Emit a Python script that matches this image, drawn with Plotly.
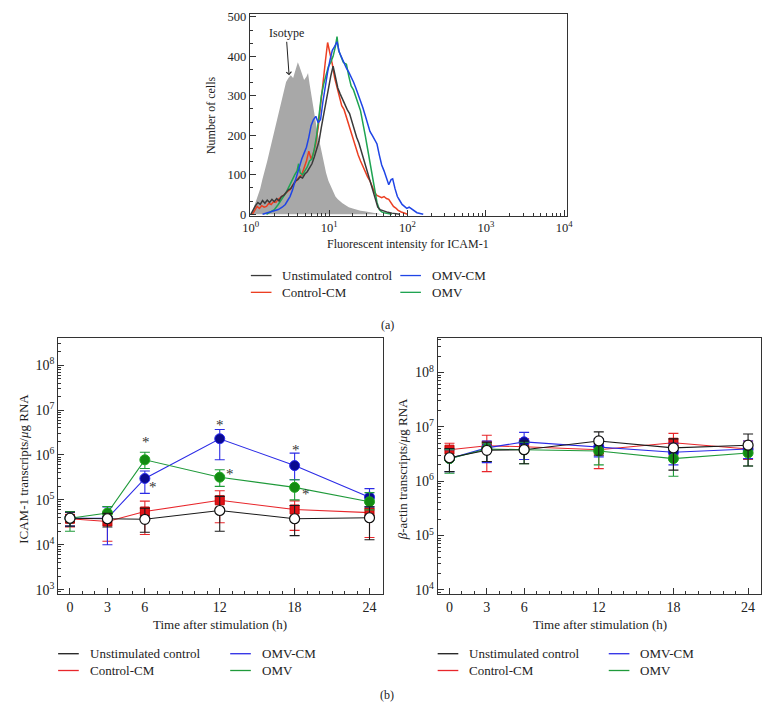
import numpy as np
import plotly.graph_objects as go

FONT = "Liberation Serif"
W, H = 776, 715

# ---------------- (a) flow cytometry histogram: log10(intensity) vs number of cells
iso_log = [0.00, 0.03, 0.06, 0.09, 0.12, 0.15, 0.18, 0.21, 0.24, 0.27, 0.30, 0.33, 0.36, 0.39, 0.42,
           0.45, 0.48, 0.51, 0.54, 0.57, 0.60, 0.62, 0.65, 0.68, 0.71, 0.73, 0.75, 0.78, 0.81, 0.84,
           0.87, 0.90, 0.93, 0.96, 0.99, 1.02, 1.05, 1.08, 1.11, 1.14, 1.17, 1.20, 1.25, 1.30, 1.35,
           1.40, 1.45, 1.50, 1.55, 1.60, 1.65, 1.70]
iso_cnt = [0, 12, 30, 45, 65, 90, 110, 135, 160, 185, 215, 240, 265, 290, 310,
           335, 345, 352, 345, 365, 385, 375, 355, 340, 348, 358, 330, 290, 255, 220,
           190, 160, 130, 105, 85, 70, 55, 45, 38, 32, 28, 24, 18, 15, 12,
           9, 8, 6, 4, 2, 1, 0]

unst_log = [0.00, 0.03, 0.06, 0.09, 0.12, 0.15, 0.18, 0.21, 0.24, 0.27, 0.30, 0.33, 0.36, 0.39, 0.42,
            0.45, 0.48, 0.51, 0.54, 0.57, 0.60, 0.63, 0.66, 0.69, 0.72, 0.75, 0.78, 0.81, 0.84, 0.87,
            0.90, 0.93, 0.96, 0.99, 1.02, 1.05, 1.08, 1.11, 1.14, 1.17, 1.20, 1.23, 1.26, 1.29, 1.32,
            1.35, 1.38, 1.41, 1.44, 1.47, 1.50, 1.53, 1.56, 1.59, 1.62, 1.65, 1.70, 1.75, 1.80, 1.90]
unst_cnt = [0, 12, 22, 30, 25, 35, 28, 36, 30, 38, 32, 40, 34, 45, 48,
            55, 62, 65, 75, 85, 88, 95, 92, 102, 108, 118, 128, 145, 165, 185,
            220, 255, 290, 325, 350, 375, 345, 320, 305, 290, 275, 265, 255, 235, 210,
            195, 180, 160, 135, 115, 100, 80, 60, 35, 18, 12, 8, 5, 3, 0]

ccm_log = [0.02, 0.05, 0.08, 0.11, 0.14, 0.17, 0.20, 0.23, 0.26, 0.29, 0.32, 0.35, 0.38, 0.41, 0.44,
           0.47, 0.50, 0.53, 0.56, 0.59, 0.62, 0.65, 0.68, 0.71, 0.74, 0.77, 0.80, 0.83, 0.86, 0.89,
           0.92, 0.95, 0.98, 1.01, 1.04, 1.07, 1.10, 1.13, 1.16, 1.19, 1.22, 1.25, 1.28, 1.31, 1.34,
           1.37, 1.40, 1.43, 1.46, 1.49, 1.52, 1.55, 1.58, 1.61, 1.64, 1.67, 1.70, 1.73, 1.76, 1.79,
           1.82, 1.85, 1.88, 1.92, 1.96, 2.00]
ccm_cnt = [0, 10, 20, 15, 22, 18, 20, 28, 25, 32, 30, 38, 42, 48, 52,
           58, 62, 72, 80, 88, 95, 100, 115, 135, 160, 140, 155, 180, 220, 280,
           340, 385, 435, 410, 380, 345, 320, 295, 275, 265, 245, 230, 205, 190, 170,
           150, 135, 120, 105, 95, 85, 70, 55, 48, 45, 42, 45, 40, 38, 30,
           20, 16, 10, 6, 3, 0]

omvcm_log = [0.15, 0.20, 0.25, 0.30, 0.35, 0.40, 0.44, 0.47, 0.50, 0.53, 0.56, 0.59, 0.62, 0.65, 0.68,
             0.71, 0.74, 0.77, 0.80, 0.83, 0.86, 0.89, 0.92, 0.95, 0.98, 1.01, 1.04, 1.07, 1.10, 1.13,
             1.16, 1.19, 1.22, 1.25, 1.28, 1.31, 1.34, 1.37, 1.40, 1.43, 1.46, 1.49, 1.52, 1.55, 1.58,
             1.61, 1.64, 1.67, 1.70, 1.73, 1.76, 1.79, 1.81, 1.84, 1.87, 1.90, 1.93, 1.96, 1.99, 2.02,
             2.05, 2.08, 2.12, 2.16, 2.20]
omvcm_cnt = [0, 3, 6, 10, 12, 18, 25, 35, 45, 60, 80, 105, 125, 140, 155,
             170, 195, 225, 240, 248, 232, 240, 285, 325, 360, 390, 415, 425, 437, 410,
             395, 385, 370, 360, 349, 335, 320, 305, 285, 270, 250, 230, 210, 200, 190,
             178, 150, 125, 110, 90, 75, 88, 90, 65, 45, 35, 25, 20, 15, 18,
             14, 8, 4, 2, 0]

omv_log = [0.20, 0.25, 0.30, 0.35, 0.40, 0.45, 0.50, 0.53, 0.56, 0.59, 0.61, 0.63, 0.66, 0.69, 0.72,
           0.75, 0.78, 0.81, 0.84, 0.87, 0.90, 0.93, 0.96, 0.99, 1.02, 1.05, 1.08, 1.10, 1.12, 1.15,
           1.18, 1.20, 1.22, 1.25, 1.28, 1.31, 1.34, 1.37, 1.40, 1.43, 1.46, 1.49, 1.52, 1.55, 1.58,
           1.61, 1.64, 1.67, 1.70, 1.75, 1.80]
omv_cnt = [0, 5, 12, 25, 40, 55, 75, 90, 100, 110, 128, 105, 100, 110, 120,
           135, 140, 165, 200, 250, 300, 330, 355, 374, 385, 400, 425, 450, 415, 400,
           385, 382, 380, 350, 325, 315, 295, 280, 262, 235, 200, 166, 130, 100, 60,
           30, 12, 6, 4, 2, 0]

# ---------------- (b) qPCR time course
hours = [0, 3, 6, 12, 18, 24]
hour_labels = ["0", "3", "6", "12", "18", "24"]
series_names = ["Unstimulated control", "Control-CM", "OMV-CM", "OMV"]

# ICAM-1 transcripts / ug RNA : mean, lower and upper error limits
icam_unst = [3.9e4, 3.8e4, 3.7e4, 5.8e4, 3.8e4, 4.0e4]
icam_unst_lo = [2.6e4, 2.5e4, 1.9e4, 2.0e4, 1.6e4, 1.3e4]
icam_unst_hi = [5.3e4, 5.0e4, 6.5e4, 1.2e5, 7.5e4, 7.0e4]
icam_ccm = [3.8e4, 3.3e4, 5.5e4, 9.8e4, 6.1e4, 5.2e4]
icam_ccm_lo = [2.5e4, 1.2e4, 1.7e4, 3.1e4, 2.1e4, 1.45e4]
icam_ccm_hi = [5.5e4, 5.0e4, 9.4e4, 1.6e5, 9.5e4, 6.5e4]
icam_omvcm = [3.9e4, 3.9e4, 3.0e5, 2.3e6, 5.8e5, 1.15e5]
icam_omvcm_lo = [2.6e4, 1.0e4, 1.4e5, 7.8e5, 2.8e5, 7.0e4]
icam_omvcm_hi = [5.3e4, 7.0e4, 4.4e5, 3.7e6, 1.1e6, 1.78e5]
icam_omv = [3.9e4, 5.1e4, 7.8e5, 3.2e5, 1.9e5, 9.1e4]
icam_omv_lo = [2.0e4, 3.5e4, 5.0e5, 2.0e5, 1.0e5, 6.0e4]
icam_omv_hi = [5.5e4, 7.1e4, 1.15e6, 4.7e5, 2.8e5, 1.45e5]

# beta-actin transcripts / ug RNA
bact_unst = [2.7e6, 3.7e6, 3.8e6, 5.5e6, 4.1e6, 4.6e6]
bact_unst_lo = [1.5e6, 2.3e6, 2.1e6, 3.0e6, 1.6e6, 1.9e6]
bact_unst_hi = [4.0e6, 5.2e6, 5.5e6, 8.1e6, 6.0e6, 7.4e6]
bact_ccm = [3.8e6, 4.5e6, 4.3e6, 3.8e6, 5.1e6, 3.9e6]
bact_ccm_lo = [2.5e6, 1.5e6, 2.5e6, 1.7e6, 3.0e6, 2.5e6]
bact_ccm_hi = [5.0e6, 7.0e6, 6.0e6, 5.0e6, 7.6e6, 5.5e6]
bact_omvcm = [2.6e6, 4.1e6, 5.3e6, 4.3e6, 3.4e6, 3.9e6]
bact_omvcm_lo = [1.5e6, 2.2e6, 2.5e6, 2.8e6, 2.0e6, 2.6e6]
bact_omvcm_hi = [3.8e6, 5.5e6, 7.9e6, 6.0e6, 5.0e6, 5.5e6]
bact_omv = [2.6e6, 3.9e6, 3.8e6, 3.6e6, 2.6e6, 3.3e6]
bact_omv_lo = [1.4e6, 2.3e6, 2.1e6, 2.0e6, 1.23e6, 1.9e6]
bact_omv_hi = [3.8e6, 5.0e6, 5.2e6, 5.0e6, 3.8e6, 4.8e6]

# significance marks on ICAM-1 panel (hour, value)
star_t = [6.08, 6.66, 12.05, 12.84, 18.1, 18.94]
star_v = [2.4e6, 2.4e5, 5.6e6, 4.7e5, 1.6e6, 1.7e5]

# ---------------- styling
C_HIST = {"unst": "#3a3a3a", "ccm": "#ec3f22", "omvcm": "#1f45e6", "omv": "#1fa452"}
LINE_C = ["#1a1a1a", "#e8262b", "#2b2be6", "#1f9a3a"]
MARK = [dict(symbol="circle", size=10, color="white", line=dict(color="#111", width=1.2)),
        dict(symbol="square", size=9, color="#e01418", line=dict(color="#c00000", width=1)),
        dict(symbol="circle", size=10, color="#0a0a90", line=dict(color="#2a2af0", width=1)),
        dict(symbol="circle", size=10, color="#138a13", line=dict(color="#1da81d", width=1))]


def px2x(px):
    return px / W


def px2y(py):
    return 1 - py / H


fig = go.Figure()

# histogram traces
fig.add_trace(go.Scatter(x=10 ** np.array(iso_log), y=iso_cnt, mode="lines", fill="tozeroy",
                         fillcolor="#a8a8a8", line=dict(width=0, color="#a8a8a8"),
                         xaxis="x", yaxis="y", showlegend=False, hoverinfo="skip"))
for L, C, key in [(ccm_log, ccm_cnt, "ccm"), (omv_log, omv_cnt, "omv"),
                  (unst_log, unst_cnt, "unst"), (omvcm_log, omvcm_cnt, "omvcm")]:
    fig.add_trace(go.Scatter(x=10 ** np.array(L), y=C, mode="lines",
                             line=dict(color=C_HIST[key], width=1.5),
                             xaxis="x", yaxis="y", showlegend=False))


def add_series(ax, ay, means, los, his, idx):
    m = np.array(means)
    fig.add_trace(go.Scatter(
        x=hours, y=means, mode="lines+markers", xaxis=ax, yaxis=ay, showlegend=False,
        line=dict(color=LINE_C[idx], width=1.1), marker=MARK[idx],
        error_y=dict(type="data", symmetric=False, array=list(np.array(his) - m),
                     arrayminus=list(m - np.array(los)), color=LINE_C[idx], thickness=1.1, width=5)))


icam = [(icam_unst, icam_unst_lo, icam_unst_hi), (icam_ccm, icam_ccm_lo, icam_ccm_hi),
        (icam_omvcm, icam_omvcm_lo, icam_omvcm_hi), (icam_omv, icam_omv_lo, icam_omv_hi)]
bact = [(bact_unst, bact_unst_lo, bact_unst_hi), (bact_ccm, bact_ccm_lo, bact_ccm_hi),
        (bact_omvcm, bact_omvcm_lo, bact_omvcm_hi), (bact_omv, bact_omv_lo, bact_omv_hi)]
for idx in [1, 2, 3, 0]:
    add_series("x2", "y2", *icam[idx], idx)
    add_series("x3", "y3", *bact[idx], idx)

FRAME = "#333"
TF = dict(family=FONT, size=14, color="#222")
base = dict(showline=True, linecolor=FRAME, linewidth=1, mirror=True, ticks="inside",
            ticklen=6, tickcolor=FRAME, showgrid=False, zeroline=False, tickfont=TF)


def sup(n):
    return "10<sup>%d</sup>" % n


hist_minor_x = [k * 10 ** n for n in range(0, 4) for k in range(2, 10)]

fig.update_layout(
    width=W, height=H, margin=dict(l=0, r=0, t=0, b=0),
    paper_bgcolor="white", plot_bgcolor="white", showlegend=False,
    font=dict(family=FONT, size=13, color="#222"),
    xaxis=dict(base, domain=[px2x(247), px2x(570)], anchor="y", type="log", range=[-0.012, 4.04],
               tickvals=[1, 10, 100, 1000, 10000], ticktext=[sup(i) for i in range(5)],
               tickfont=dict(family=FONT, size=12.5, color="#222"),
               minor=dict(tickvals=hist_minor_x, ticks="inside", ticklen=3, tickcolor=FRAME)),
    yaxis=dict(base, domain=[px2y(215), px2y(10)], anchor="x", range=[-5, 507.5],
               tickvals=[0, 100, 200, 300, 400, 500], tickfont=dict(family=FONT, size=12.5, color="#222"),
               minor=dict(dtick=100 / 3, tick0=0, ticks="inside", ticklen=3, tickcolor=FRAME)),
    xaxis2=dict(base, domain=[px2x(52), px2x(382)], anchor="y2", range=[-0.95, 25.05],
                tickvals=hours, ticktext=hour_labels,
                minor=dict(dtick=1, tick0=0, ticks="inside", ticklen=3, tickcolor=FRAME)),
    yaxis2=dict(base, domain=[px2y(598), px2y(338)], anchor="x2", type="log", range=[2.894, 8.61],
                tickvals=[10 ** n for n in range(3, 9)], ticktext=[sup(n) for n in range(3, 9)],
                minor=dict(tickvals=[k * 10 ** n for n in range(2, 9) for k in range(2, 10)],
                           ticks="inside", ticklen=3, tickcolor=FRAME)),
    xaxis3=dict(base, domain=[px2x(438), px2x(767)], anchor="y3", range=[-0.95, 25.05],
                tickvals=hours, ticktext=hour_labels,
                minor=dict(dtick=1, tick0=0, ticks="inside", ticklen=3, tickcolor=FRAME)),
    yaxis3=dict(base, domain=[px2y(598), px2y(338)], anchor="x3", type="log", range=[3.915, 8.64],
                tickvals=[10 ** n for n in range(4, 9)], ticktext=[sup(n) for n in range(4, 9)],
                minor=dict(tickvals=[k * 10 ** n for n in range(3, 9) for k in range(2, 10)],
                           ticks="inside", ticklen=3, tickcolor=FRAME)),
)

ann = []
shapes = []


def text(x, y, s, size=13, angle=0, xanchor="center"):
    ann.append(dict(x=px2x(x), y=px2y(y), xref="paper", yref="paper", text=s, showarrow=False,
                    textangle=angle, xanchor=xanchor, yanchor="middle",
                    font=dict(family=FONT, size=size, color="#222")))


# axis titles
text(207, 113, "Number of cells", 12, -90)
text(408, 243, "Fluorescent intensity for ICAM-1", 12)
text(16, 471, "ICAM-1 transcripts/<i>μ</i>g RNA", 13, -90)
text(217, 628, "Time after stimulation (h)", 13)
text(402, 471, "<i>β</i>-actin transcripts/<i>μ</i>g RNA", 13, -90)
text(603, 628, "Time after stimulation (h)", 13)
text(387, 325, "(a)", 12)
text(386, 700, "(b)", 12)

# Isotype label with arrow
ann.append(dict(x=np.log10(3.08), y=352, xref="x", yref="y", text="Isotype", showarrow=True,
                ax=-3, ay=-42, arrowhead=4, arrowsize=1, arrowwidth=1, arrowcolor="#222",
                font=dict(family=FONT, size=12, color="#222")))

# significance asterisks
for t, v in zip(star_t, star_v):
    ann.append(dict(x=t, y=np.log10(v), xref="x2", yref="y2", text="*", showarrow=False,
                    yshift=-4, font=dict(family=FONT, size=15, color="#333")))


# legends (line swatch + label)
def legend(x1, x2, y1, y2, colors):
    rows = [(x1, y1, 0), (x1, y2, 1), (x2, y1, 2), (x2, y2, 3)]
    for (x, y, i) in rows:
        shapes.append(dict(type="line", xref="paper", yref="paper", x0=px2x(x), x1=px2x(x + 21),
                           y0=px2y(y), y1=px2y(y), line=dict(color=colors[i], width=1.3)))
        text(x + 30, y, series_names[i], 13, 0, "left")


hist_leg = [C_HIST["unst"], C_HIST["ccm"], C_HIST["omvcm"], C_HIST["omv"]]
legend(248, 400, 275, 292, hist_leg)
legend(52, 227, 658, 675, LINE_C)
legend(438, 612, 658, 675, LINE_C)

fig.update_layout(annotations=ann, shapes=shapes)
fig.write_html("out.html", config={"displayModeBar": False},
               post_script="document.body.style.margin='0';document.body.style.overflow='hidden';")
